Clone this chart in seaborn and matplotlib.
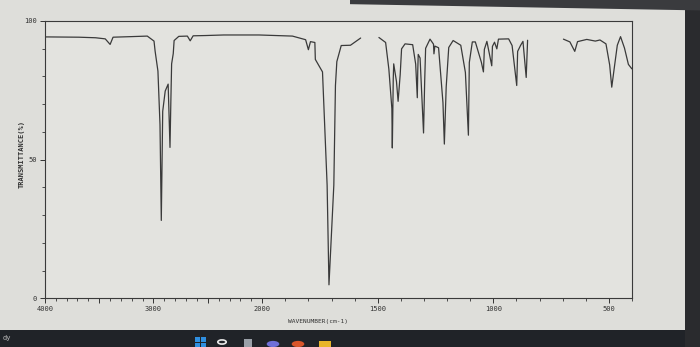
import numpy as np
import pandas as pd
import matplotlib
matplotlib.use("Agg")
import matplotlib.pyplot as plt
import seaborn as sns
from matplotlib.ticker import FixedLocator, FixedFormatter
from matplotlib.patches import Rectangle, Polygon, Circle

# ---- data (wavenumber in cm-1, transmittance in %) ----
# the trace shows two breaks, so it is kept as three segments
wn_seg1 = [4000, 3973, 3686, 3533, 3444, 3399, 3372, 3210, 3057, 2995, 2985,
           2959, 2940, 2928, 2915, 2892, 2865, 2848, 2840, 2833, 2818, 2810,
           2767, 2688, 2662, 2635, 2520, 2354, 2200, 2028, 1869, 1812, 1800,
           1791, 1772, 1770, 1739, 1719, 1711, 1690, 1683, 1677, 1658, 1618, 1574]
t_seg1 = [94.2, 94.2, 94.1, 93.9, 93.5, 91.5, 94.1, 94.3, 94.5, 92.7, 89.1,
          81.9, 62.6, 28.1, 67.4, 74.7, 77.2, 54.4, 71.1, 84.5, 88.2, 92.9,
          94.4, 94.5, 92.8, 94.6, 94.7, 94.9, 94.9, 94.9, 94.5, 93.2, 89.6,
          92.5, 92.2, 86.1, 81.6, 40.8, 4.9, 40.8, 76.7, 85.3, 91.1, 91.2, 93.8]

wn_seg2 = [1495, 1466, 1452, 1439, 1437, 1433, 1431, 1419, 1412, 1403, 1397,
           1382, 1349, 1336, 1329, 1327, 1325, 1317, 1302, 1297, 1293, 1274,
           1259, 1257, 1253, 1237, 1218, 1212, 1204, 1193, 1174, 1141, 1121,
           1108, 1104, 1091, 1078, 1052, 1043, 1039, 1028, 1007, 1004, 995,
           985, 978, 934, 919, 899, 895, 882, 872, 858, 852]
t_seg2 = [94.0, 92.2, 82.6, 68.4, 54.2, 79.1, 84.5, 78.1, 71.0, 80.6, 89.9,
          91.7, 91.4, 84.4, 72.3, 81.9, 87.9, 86.6, 59.6, 78.4, 90.1, 93.4,
          91.6, 88.1, 90.9, 90.3, 70.5, 55.6, 76.2, 90.4, 92.9, 91.2, 81.4,
          58.8, 85.0, 92.4, 92.4, 85.1, 81.6, 89.7, 92.6, 83.8, 90.8, 92.3,
          89.9, 93.4, 93.5, 91.1, 76.7, 89.0, 91.2, 92.6, 79.6, 93.0]

wn_seg3 = [697, 669, 648, 636, 596, 559, 539, 513, 497, 488, 477, 464, 450,
           433, 416, 401]
t_seg3 = [93.4, 92.4, 89.0, 92.5, 93.3, 92.7, 93.1, 91.7, 84.1, 76.1, 83.1,
          91.2, 94.3, 90.2, 84.3, 82.7]

x_major = [4000, 3500, 3000, 2500, 2000, 1500, 1000, 500]
x_major_labels = ["4000", "", "3000", "", "2000", "1500", "1000", "500"]
y_major = [0, 50, 100]
y_major_labels = ["0", "50", "100"]

df = pd.concat([
    pd.DataFrame({"wavenumber": w, "transmittance": t, "segment": i})
    for i, (w, t) in enumerate([(wn_seg1, t_seg1), (wn_seg2, t_seg2), (wn_seg3, t_seg3)])
], ignore_index=True)

# ---- figure ----
sns.set_theme(style="white")
plt.rcParams["font.family"] = ["DejaVu Sans Mono", "DejaVu Sans"]

bg = "#dededa"
fig = plt.figure(figsize=(7, 3.47), dpi=100, facecolor=bg)
ax = fig.add_axes([0.064, 0.14, 0.839, 0.80])
ax.set_facecolor("#e3e3df")

sns.lineplot(data=df, x="wavenumber", y="transmittance", units="segment",
             estimator=None, sort=False, color="#3a3a3a", linewidth=0.9,
             legend=False, ax=ax)

# IR chart convention: 4000-2000 cm-1 compressed, 2000-400 cm-1 expanded
def fwd(w):
    w = np.asarray(w, dtype=float)
    return np.where(w >= 2000, w / 1000.0, 2.0 - (2000.0 - w) / 470.0)


def inv(q):
    q = np.asarray(q, dtype=float)
    return np.where(q >= 2.0, q * 1000.0, 2000.0 - (2.0 - q) * 470.0)


ax.set_xscale("function", functions=(fwd, inv))
ax.set_xlim(4000, 400)
ax.set_ylim(0, 100)

ax.xaxis.set_major_locator(FixedLocator(x_major))
ax.xaxis.set_major_formatter(FixedFormatter(x_major_labels))
ax.xaxis.set_minor_locator(FixedLocator([v for v in range(400, 4001, 100) if v not in x_major]))
ax.yaxis.set_major_locator(FixedLocator(y_major))
ax.yaxis.set_major_formatter(FixedFormatter(y_major_labels))
ax.yaxis.set_minor_locator(FixedLocator(list(range(10, 100, 10))))

ax.tick_params(axis="both", which="major", direction="out", length=3.5, width=0.7,
               labelsize=5, colors="#333333", pad=2, bottom=True, left=True)
ax.tick_params(axis="both", which="minor", direction="out", length=2, width=0.6,
               colors="#333333", bottom=True, left=True)

for s in ax.spines.values():
    s.set_visible(True)
    s.set_color("#3a3a3a")
    s.set_linewidth(0.8)

ax.set_ylabel("TRANSMITTANCE(%)", fontsize=5, color="#333333", fontweight="bold")
ax.yaxis.set_label_coords(-0.034, 0.52)
ax.set_xlabel("WAVENUMBER(cm-1)", fontsize=4.5, color="#333333")
ax.xaxis.set_label_coords(0.465, -0.075)

# photo surroundings: screen bezel / taskbar
fig.patches.append(Rectangle((0, 0), 1, 0.05, transform=fig.transFigure,
                             facecolor="#202328", edgecolor="none", zorder=-1))
fig.patches.append(Rectangle((0.978, 0), 0.022, 1, transform=fig.transFigure,
                             facecolor="#2a2b2e", edgecolor="none", zorder=-1))
fig.patches.append(Polygon([(0.5, 1.0), (1.0, 1.0), (1.0, 0.97), (0.5, 0.988)],
                           closed=True, transform=fig.transFigure,
                           facecolor="#3a3b3e", edgecolor="none", zorder=-1))
fig.text(0.004, 0.025, "dy", fontsize=5, color="#b8b8b8", va="center", ha="left")

# taskbar icons (approximate)
H = 347.0
for (dx, dy) in [(0, 0), (6, 0), (0, 6), (6, 6)]:
    fig.patches.append(Rectangle(((195 + dx) / 700, (H - 348 + dy) / H), 5 / 700, 5 / H,
                                 transform=fig.transFigure, facecolor="#2f8fe0",
                                 edgecolor="none"))
fig.patches.append(Circle((222 / 700, 5 / H), 0.006, transform=fig.transFigure,
                          facecolor="none", edgecolor="#e8e8e8", linewidth=1.2))
fig.patches.append(Rectangle((244 / 700, 0), 8 / 700, 8 / H, transform=fig.transFigure,
                             facecolor="#9aa0a8", edgecolor="none"))
fig.patches.append(Circle((273 / 700, 3 / H), 0.009, transform=fig.transFigure,
                          facecolor="#6f6fd8", edgecolor="none"))
fig.patches.append(Circle((298 / 700, 3 / H), 0.009, transform=fig.transFigure,
                          facecolor="#d8552a", edgecolor="none"))
fig.patches.append(Rectangle((319 / 700, 0), 12 / 700, 6 / H, transform=fig.transFigure,
                             facecolor="#e8b52a", edgecolor="none"))

fig.savefig("out.png", dpi=100, facecolor=bg)
